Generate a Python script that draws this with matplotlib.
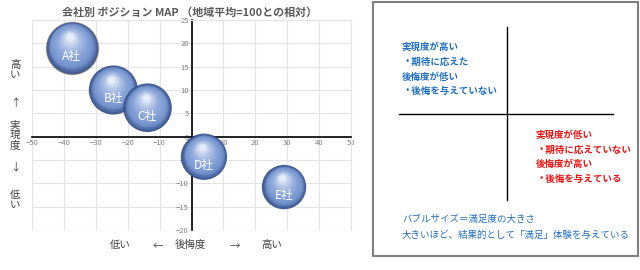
import numpy as np
import matplotlib.pyplot as plt
import matplotlib.transforms as mtransforms
from matplotlib.colors import to_rgb
from matplotlib.patches import Rectangle

plt.rcParams['font.family'] = ['Noto Sans CJK JP', 'DejaVu Sans']

# データ
companies = ['A社', 'B社', 'C社', 'D社', 'E社']
regret = [-37.5, -24.5, -13.8, 3.9, 29.0]          # 後悔度
realize = [19.0, 10.0, 6.2, -4.3, -10.8]           # 実現度
satisfaction = [112, 104, 103, 98, 94]             # 満足度 (バブルサイズ)

xticks = list(range(-50, 51, 10))
yticks = list(range(-20, 26, 5))

title = '会社別 ポジション MAP （地域平均=100との相対）'
blue_lines = ['実現度が高い', '・期待に応えた', '後悔度が低い', '・後悔を与えていない']
red_lines = ['実現度が低い', '・期待に応えていない', '後悔度が高い', '・後悔を与えている']
note_lines = ['バブルサイズ＝満足度の大きさ', '大きいほど、結果的として「満足」体験を与えている']

fig = plt.figure(figsize=(6.4, 2.7), dpi=100)

# 左：バブルチャート
ax = fig.add_axes([32 / 640, 1 - 230 / 270, 319 / 640, 210 / 270])
ax.set_xlim(-50, 50)
ax.set_ylim(-20, 25)
ax.set_xticks(xticks)
ax.set_yticks(yticks)
ax.grid(True, color='#e4e4e4', lw=0.8)
ax.set_axisbelow(True)
for s in ['top', 'right']:
    ax.spines[s].set_color('#e4e4e4')
    ax.spines[s].set_linewidth(0.8)
ax.spines['left'].set_position(('data', 0))
ax.spines['bottom'].set_position(('data', 0))
ax.spines['left'].set_linewidth(1.2)
ax.spines['bottom'].set_linewidth(1.2)
ax.tick_params(length=0, labelsize=5.5, labelcolor='#808080', pad=2)

# 球体風のバブル
rim = np.array(to_rgb('#34508a'))
mid = np.array(to_rgb('#7d9cd5'))
top = np.array(to_rgb('#f0f5fc'))
n_layers = 20
for k, (x, y, sat, name) in enumerate(zip(regret, realize, satisfaction, companies)):
    r_pt = sat / 100 * 17.0  # 半径 (pt)
    # 外周 (A社だけ金色の細い縁)
    ax.scatter([x], [y], s=(2 * r_pt) ** 2, color=rim, lw=0.5 if k == 0 else 0,
               edgecolors='#d8c08a' if k == 0 else 'none', zorder=3, alpha=0.92)
    for i in range(1, n_layers):
        f = i / (n_layers - 1)
        if f < 0.2:
            col = rim + (mid - rim) * (f / 0.2)
            a = 0.7
        else:
            col = mid + (top - mid) * ((f - 0.2) / 0.8) ** 1.8
            a = 0.55
        r = r_pt * (1 - 0.86 * f)
        dx = -r_pt * 0.08 * f
        dy = r_pt * 0.42 * f
        tr = mtransforms.offset_copy(ax.transData, fig=fig, x=dx, y=dy, units='points')
        ax.scatter([x], [y], s=(2 * r) ** 2, color=col, lw=0, transform=tr,
                   alpha=a, zorder=3)
    tr = mtransforms.offset_copy(ax.transData, fig=fig, x=0, y=-6, units='points')
    ax.text(x, y, name, transform=tr, ha='center', va='center', color='white',
            fontsize=8.5, zorder=5)

fig.text(190 / 640, 1 - 13 / 270, title, ha='center', va='center',
         fontsize=7.9, fontweight='bold', color='#595959')

# 軸ラベル
ylab = [('高\nい', 70), ('↑', 103), ('実\n現\n度', 135), ('↓', 167), ('低\nい', 200)]
for t, yp in ylab:
    fig.text(15 / 640, 1 - yp / 270, t, ha='center', va='center', fontsize=7.5,
             color='#404040', linespacing=1.0)
xlab = [('低い', 120), ('←', 158), ('後悔度', 190), ('→', 235), ('高い', 272)]
for t, xp in xlab:
    fig.text(xp / 640, 1 - 245 / 270, t, ha='center', va='center', fontsize=7.5,
             color='#404040')

# 右：説明パネル
pan = fig.add_axes([0, 0, 1, 1])
pan.set_xlim(0, 640)
pan.set_ylim(270, 0)
pan.axis('off')
pan.patch.set_alpha(0)
pan.add_patch(Rectangle((373, 2), 265, 254, fill=False, ec='#7f7f7f', lw=1.5))
pan.plot([507, 507], [27, 200], color='black', lw=1.0)
pan.plot([399, 613], [114, 114], color='black', lw=1.0)
for i, t in enumerate(blue_lines):
    pan.text(402, 47 + i * 14.7, t, ha='left', va='center', fontsize=6.8,
             fontweight='bold', color='#1f6fc0')
for i, t in enumerate(red_lines):
    pan.text(536, 135 + i * 14.5, t, ha='left', va='center', fontsize=6.8,
             fontweight='bold', color='#ee1111')
for i, t in enumerate(note_lines):
    pan.text(402, 219 + i * 16, t, ha='left', va='center', fontsize=6.8,
             color='#1f6fc0')

fig.savefig('out.png', dpi=100)
